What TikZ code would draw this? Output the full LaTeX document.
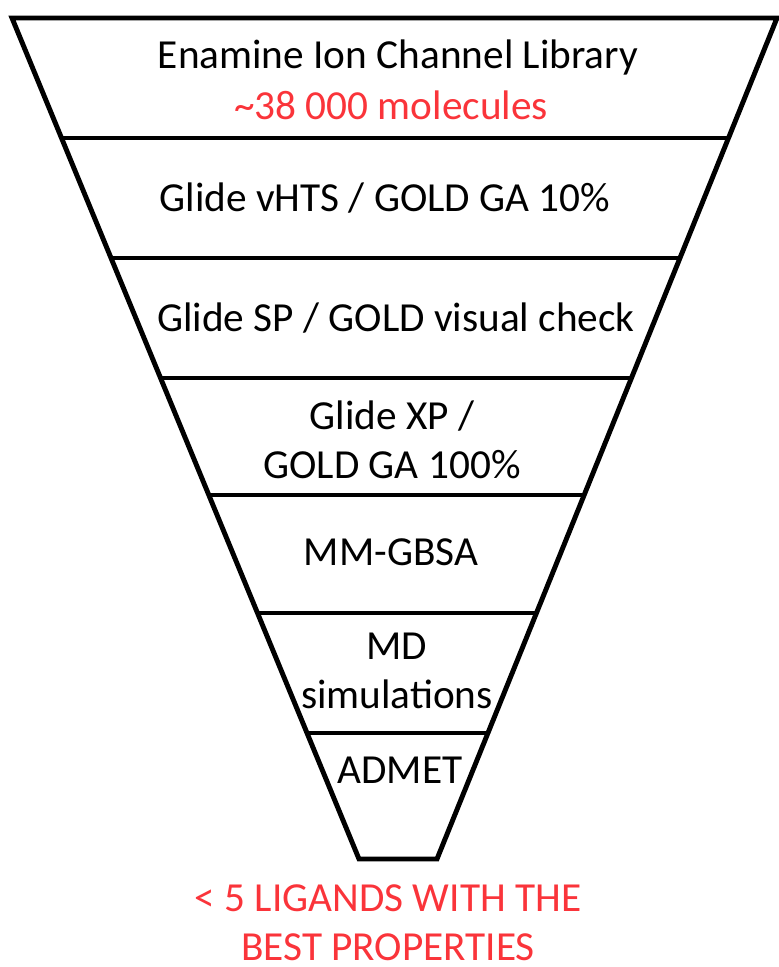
\documentclass[tikz,border=0pt]{standalone}
\usepackage{fontspec}
\setmainfont{Carlito}
\usetikzlibrary{calc}
\definecolor{hitred}{RGB}{250,52,58}
\tikzset{
  stage/.style={font=\fontsize{23.5}{28}\selectfont,align=center,inner sep=0pt},
  result/.style={stage,text=hitred}
}
\begin{document}
\begin{tikzpicture}[x=0.02cm,y=-0.02cm,line width=2.8pt]
\useasboundingbox (0,0) rectangle (778,967);
% funnel outline
\coordinate (TL) at (12,18);
\coordinate (TR) at (777,18);
\coordinate (BL) at (359,859);
\coordinate (BR) at (437,859);
\draw (TL) -- (TR) -- (BR) -- (BL) -- cycle;
\foreach \y in {138,258,378,495,613,733}
{
\draw ($(TL)!{(\y-18)/841}!(BL)$) -- ($(TR)!{(\y-18)/841}!(BR)$);
}
% stage labels
\node[stage] (lib) at (398,57) {Enamine Ion Channel Library};
\node[result] (count) at (391,105) {\textasciitilde 38 000 molecules};
\node[stage] (vhts) at (385,198) {Glide vHTS / GOLD GA 10\%};
\node[stage] (sp) at (396,318) {Glide SP / GOLD visual check};
\node[stage] (xp) at (392,440) {Glide XP /\\GOLD GA 100\%};
\node[stage] (gbsa) at (391,552) {MM-GBSA};
\node[stage] (md) at (397,671) {MD\\simulations};
\node[stage] (admet) at (400,770) {ADMET};
\node[result] (hits) at (388,923) {< 5 LIGANDS WITH THE\\BEST PROPERTIES};
\end{tikzpicture}
\end{document}
